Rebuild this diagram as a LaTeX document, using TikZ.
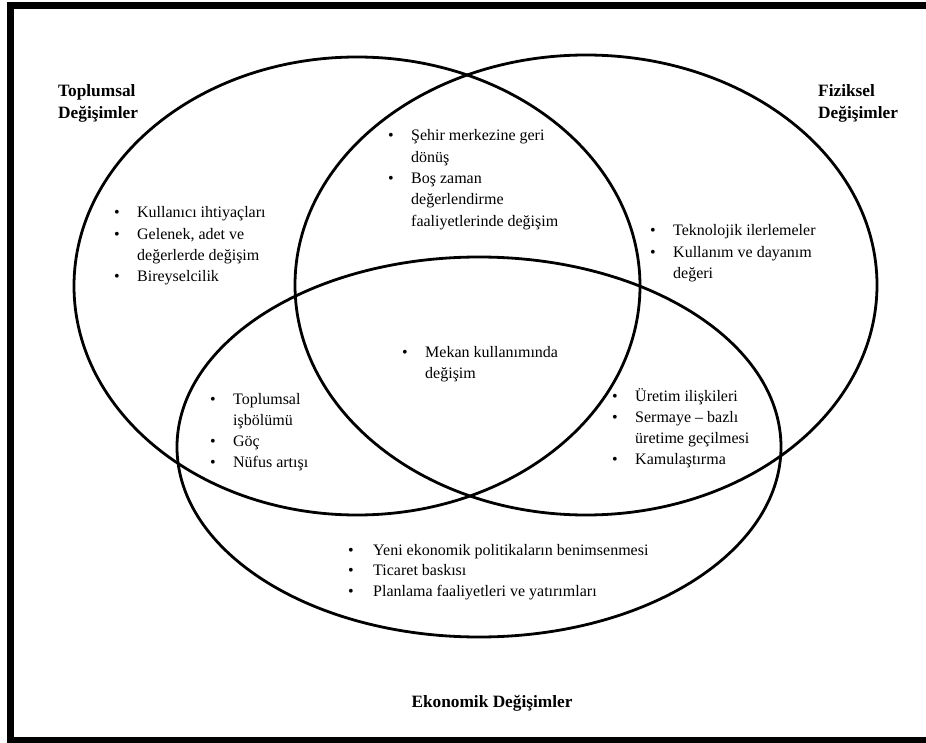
\documentclass[tikz,border=0pt]{standalone}
\usepackage{fontspec}
\setmainfont{Liberation Serif}
\newcommand\bl{\makebox[23pt][l]{\textbullet}}
\newcommand\blist[1]{\begin{tabular}[t]{@{}l@{}l@{}}#1\end{tabular}}
\newcommand\hlist[1]{\begin{tabular}[t]{@{}l@{}}#1\end{tabular}}
\tikzset{
  venn/.style={draw=black, line width=2.8pt},
  frame/.style={draw=black, line width=6.5pt},
  body/.style={anchor=base west, inner sep=0pt, font=\fontsize{16pt}{21.3pt}\selectfont},
  head/.style={anchor=base west, inner sep=0pt, font=\bfseries\fontsize{17.3pt}{21.5pt}\selectfont},
}
\begin{document}
\begin{tikzpicture}[x=1pt,y=-1pt]
\useasboundingbox (0,0) rectangle (926,743);
\fill[white] (0,0) rectangle (926,743);
\draw[frame] (10.5,5.5) rectangle (934,740);
% ellipses
\draw[venn] (357,286) ellipse [x radius=283pt, y radius=229pt];
\draw[venn] (586,285) ellipse [x radius=291pt, y radius=230pt];
\draw[venn] (479,447) ellipse [x radius=302pt, y radius=190pt];
% headings
\node[head] (toplumsal) at (58,97) {\hlist{Toplumsal\\Değişimler}};
\node[head] (fiziksel) at (818,97) {\hlist{Fiziksel\\Değişimler}};
\node[head, anchor=base] (ekonomik) at (492,707) {Ekonomik Değişimler};
% lists
\node[body] (social) at (114,218) {\blist{\bl & Kullanıcı ihtiyaçları\\ \bl & Gelenek, adet ve\\ & değerlerde değişim\\ \bl & Bireyselcilik}};
\node[body] (socphys) at (388,141) {\blist{\bl & Şehir merkezine geri\\ & dönüş\\ \bl & Boş zaman\\ & değerlendirme\\ & faaliyetlerinde değişim}};
\node[body] (phys) at (650,236) {\blist{\bl & Teknolojik ilerlemeler\\ \bl & Kullanım ve dayanım\\ & değeri}};
\node[body] (center) at (402,357) {\blist{\bl & Mekan kullanımında\\ & değişim}};
\node[body] (soceco) at (210,404) {\blist{\bl & Toplumsal\\ & işbölümü\\ \bl & Göç\\ \bl & Nüfus artışı}};
\node[body] (physeco) at (612,401) {\blist{\bl & Üretim ilişkileri\\ \bl & Sermaye – bazlı\\ & üretime geçilmesi\\ \bl & Kamulaştırma}};
\node[body, font=\fontsize{16pt}{20.7pt}\selectfont] (eco) at (348,555) {\blist{\bl\hspace{2pt} & Yeni ekonomik politikaların benimsenmesi\\ \bl\hspace{2pt} & Ticaret baskısı\\ \bl\hspace{2pt} & Planlama faaliyetleri ve yatırımları}};
\end{tikzpicture}
\end{document}
